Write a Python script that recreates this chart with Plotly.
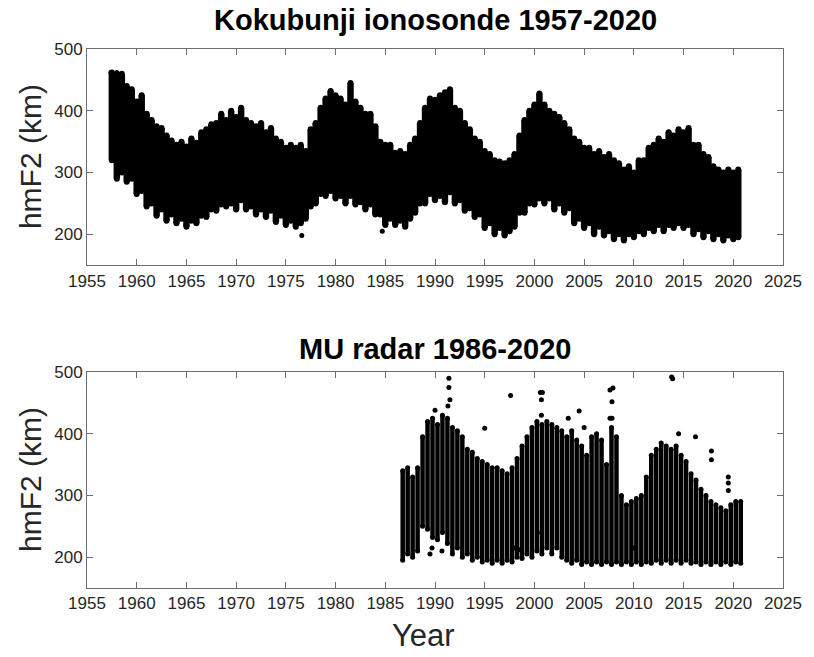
import plotly.graph_objects as go

# Kokubunji ionosonde: hmF2 spread (km) in half-year bins, starting 1957.5
KOK_START, KOK_STEP = 1957.5, 0.5
kok_high = [462, 455, 460, 440, 435, 415, 425, 395, 385, 375, 372, 360, 352, 345, 350, 342,
            355, 348, 365, 370, 378, 380, 395, 385, 400, 390, 405, 385, 380, 375, 380, 365,
            372, 355, 350, 340, 345, 340, 345, 335, 370, 380, 405, 420, 432, 425, 420, 410,
            445, 415, 405, 395, 395, 375, 350, 345, 345, 332, 335, 330, 345, 355, 380, 405,
            420, 418, 425, 430, 435, 405, 400, 380, 370, 355, 350, 335, 330, 320, 318, 315,
            320, 330, 360, 385, 400, 410, 428, 410, 400, 395, 390, 380, 370, 355, 350, 340,
            340, 330, 335, 325, 330, 320, 315, 305, 310, 300, 320, 320, 340, 345, 355, 350,
            365, 360, 370, 365, 372, 345, 345, 330, 325, 310, 305, 300, 305, 300, 305]
kok_low = [320, 290, 300, 285, 290, 265, 270, 245, 250, 230, 240, 222, 232, 218, 225, 212,
           222, 218, 230, 228, 240, 238, 248, 245, 250, 240, 255, 240, 245, 232, 240, 228,
           238, 220, 230, 215, 222, 212, 218, 225, 245, 250, 265, 262, 270, 258, 262, 250,
           262, 248, 252, 240, 248, 232, 232, 215, 225, 215, 222, 212, 225, 235, 250, 250,
           265, 255, 262, 252, 268, 250, 255, 238, 242, 228, 232, 210, 218, 200, 210, 198,
           205, 212, 235, 235, 250, 248, 258, 250, 258, 240, 250, 235, 242, 218, 225, 210,
           218, 200, 212, 198, 205, 192, 200, 190, 200, 195, 205, 200, 210, 205, 215, 205,
           215, 210, 218, 210, 215, 200, 208, 195, 205, 192, 200, 190, 198, 192, 195]
kok_out_year = [1957.4, 1958.0, 1976.6, 1984.7]
kok_out_km = [462, 462, 198, 205]

# MU radar: hmF2 spread (km) in half-year bins, starting 1986.75
MU_START, MU_STEP = 1986.75, 0.5
mu_high = [340, 345, 330, 345, 395, 420, 425, 415, 430, 425, 410, 405, 395, 375, 370, 360,
           355, 350, 345, 345, 340, 335, 345, 360, 380, 395, 410, 420, 415, 420, 415, 410,
           405, 395, 405, 390, 380, 365, 395, 400, 390, 350, 410, 395, 300, 285, 290, 295,
           300, 330, 365, 375, 385, 380, 375, 380, 365, 355, 335, 325, 310, 300, 290, 285,
           280, 275, 285, 290, 290]
mu_low = [195, 205, 200, 210, 250, 245, 232, 228, 240, 222, 205, 215, 200, 205, 195, 200,
          192, 195, 190, 195, 190, 195, 192, 200, 198, 205, 200, 210, 205, 215, 205, 215,
          200, 195, 190, 195, 188, 192, 188, 192, 188, 192, 188, 192, 188, 192, 188, 192,
          188, 192, 190, 195, 190, 195, 190, 195, 190, 195, 190, 192, 188, 192, 188, 192,
          188, 192, 188, 192, 190]
mu_out_year = [1991.4, 1991.4, 1991.5, 1991.3, 1990.0, 1995.0, 1997.6, 2000.6, 2000.8,
               2000.7, 2000.7, 2003.4, 2004.5, 2005.0, 2007.6, 2007.9, 2007.8, 2007.6,
               2007.8, 2013.8, 2013.9, 2014.5, 2016.2, 2017.8, 2017.8, 2019.5, 2019.5,
               2019.5, 1989.5, 1989.7, 1990.7, 1997.9, 1998.4, 2000.3, 2009.9]
mu_out_km = [490, 475, 455, 445, 438, 409, 462, 467, 467, 455, 430, 425, 437, 410, 471,
             474, 452, 425, 425, 492, 489, 400, 395, 372, 358, 330, 320, 308, 205, 215,
             210, 215, 212, 240, 215]

year_ticks = list(range(1955, 2026, 5))
km_ticks = [200, 300, 400, 500]

assert len(kok_high) == len(kok_low)
assert len(mu_high) == len(mu_low)
assert len(mu_out_year) == len(mu_out_km)


def column_path(start, step, low, high):
    """Vertical low-high segments per time bin, separated by gaps."""
    xs, ys = [], []
    for i, (lo, hi) in enumerate(zip(low, high)):
        t = start + i * step
        xs += [t, t, None]
        ys += [lo, hi, None]
    return xs, ys


FONT = "Liberation Sans"
INK = "#000000"
TEXT = "#262626"

fig = go.Figure()

kx, ky = column_path(KOK_START, KOK_STEP, kok_low, kok_high)
fig.add_trace(go.Scatter(x=kx, y=ky, mode="lines+markers", xaxis="x", yaxis="y",
                         line=dict(color=INK, width=6.5), marker=dict(color=INK, size=6),
                         connectgaps=False, hoverinfo="skip", showlegend=False))
fig.add_trace(go.Scatter(x=kok_out_year, y=kok_out_km, mode="markers", xaxis="x", yaxis="y",
                         marker=dict(color=INK, size=5), showlegend=False))

mx, my = column_path(MU_START, MU_STEP, mu_low, mu_high)
fig.add_trace(go.Scatter(x=mx, y=my, mode="lines+markers", xaxis="x2", yaxis="y2",
                         line=dict(color=INK, width=4.5), marker=dict(color=INK, size=5),
                         connectgaps=False, hoverinfo="skip", showlegend=False))
fig.add_trace(go.Scatter(x=mu_out_year, y=mu_out_km, mode="markers", xaxis="x2", yaxis="y2",
                         marker=dict(color=INK, size=5), showlegend=False))

axis_common = dict(showgrid=False, zeroline=False, showline=True, mirror="ticks",
                   linecolor="#6e6e6e", linewidth=1, ticks="inside", ticklen=6,
                   tickcolor="#6e6e6e", tickfont=dict(family=FONT, size=17, color=TEXT))

fig.update_layout(
    width=814, height=657,
    margin=dict(l=87, r=25, t=49, b=69),
    paper_bgcolor="white", plot_bgcolor="white",
    xaxis=dict(domain=[0, 1], anchor="y", range=[1955, 2025], tickvals=year_ticks, **axis_common),
    yaxis=dict(domain=[0.599, 1], anchor="x", range=[150, 500], tickvals=km_ticks, **axis_common),
    xaxis2=dict(domain=[0, 1], anchor="y2", range=[1955, 2025], tickvals=year_ticks, **axis_common),
    yaxis2=dict(domain=[0, 0.4007], anchor="x2", range=[150, 500], tickvals=km_ticks, **axis_common),
    annotations=[
        dict(text="<b>Kokubunji ionosonde 1957-2020</b>", xref="paper", yref="paper",
             x=0.5, y=1.0, yshift=29, xanchor="center", yanchor="middle", showarrow=False,
             font=dict(family=FONT, size=29, color="#000")),
        dict(text="<b>MU radar 1986-2020</b>", xref="paper", yref="paper",
             x=0.5, y=0.4007, yshift=23, xanchor="center", yanchor="middle", showarrow=False,
             font=dict(family=FONT, size=29, color="#000")),
        dict(text="hmF2 (km)", xref="paper", yref="paper", x=0, xshift=-57,
             y=0.7995, textangle=-90, xanchor="center", yanchor="middle", showarrow=False,
             font=dict(family=FONT, size=30, color=TEXT)),
        dict(text="hmF2 (km)", xref="paper", yref="paper", x=0, xshift=-57,
             y=0.20035, textangle=-90, xanchor="center", yanchor="middle", showarrow=False,
             font=dict(family=FONT, size=30, color=TEXT)),
        dict(text="Year", xref="paper", yref="paper", x=0.484, y=0, yshift=-47,
             xanchor="center", yanchor="middle", showarrow=False,
             font=dict(family=FONT, size=31, color=TEXT)),
    ],
)

fig.write_html("out.html")
